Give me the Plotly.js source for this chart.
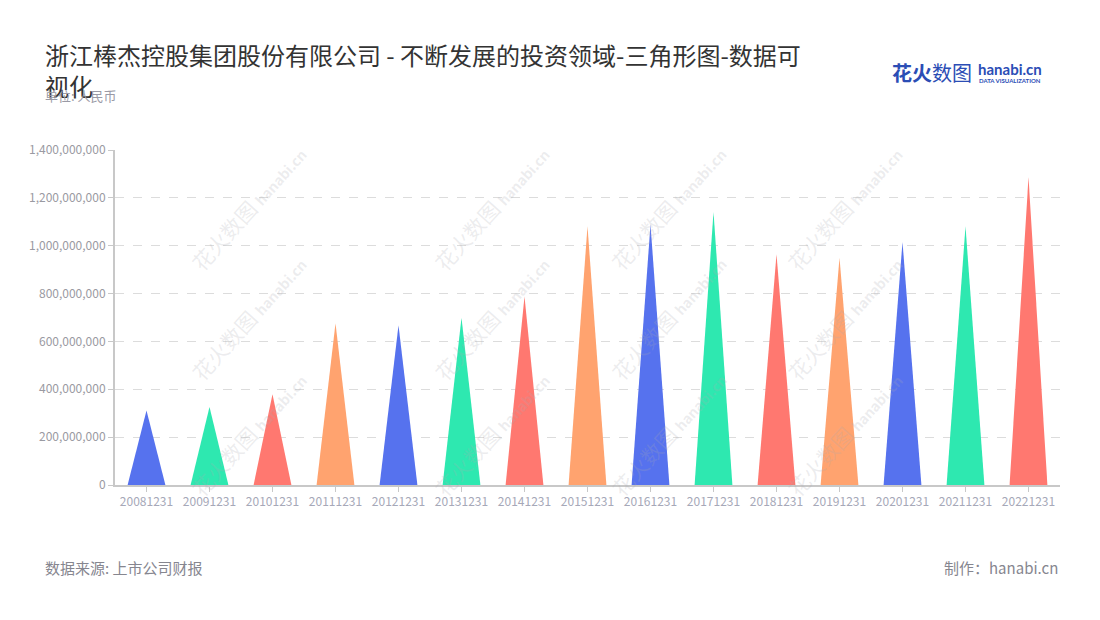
<!DOCTYPE html>
<html>
<head>
<meta charset="utf-8">
<script src="https://cdn.plot.ly/plotly-3.0.1.min.js"></script>
<style>
  body { margin: 0; background: #fff; }
  #chart { width: 1100px; height: 620px; }
</style>
</head>
<body>
<div id="chart"></div>
<script>
// data (yuan)
const categories = ["20081231","20091231","20101231","20111231","20121231","20131231","20141231","20151231",
                    "20161231","20171231","20181231","20191231","20201231","20211231","20221231"];
const values = [311e6, 326e6, 379e6, 676e6, 668e6, 699e6, 788e6, 1081e6,
                1089e6, 1141e6, 964e6, 950e6, 1016e6, 1081e6, 1286e6];
const palette = ["#5672ee", "#2ee8b0", "#ff7870", "#ffa36f"];
const yTicks = [0, 2e8, 4e8, 6e8, 8e8, 10e8, 12e8, 14e8];

const font = "'Noto Sans CJK SC', 'Noto Sans', sans-serif";
const halfWidth = 0.3;

// plot box in pixels, used to place the page texts
const L = 115, W = 945, B = 485, H = 335;
const px = x => (x - L) / W;
const py = y => (B - y) / H;

// one filled triangle per year
let traces = categories.map((cat, i) => ({
  type: "scatter",
  mode: "lines",
  x: [i - halfWidth, i, i + halfWidth, i - halfWidth],
  y: [0, values[i], 0, 0],
  fill: "toself",
  fillcolor: palette[i % palette.length],
  line: { width: 0, color: palette[i % palette.length] },
  name: cat,
  text: cat + ": " + values[i].toLocaleString("en-US"),
  hoverinfo: "text",
  showlegend: false
}));

// faint diagonal watermarks
let marks = [];
const markX = [182, 425, 668, 911];
const markY = [137, 318, 505];
markY.forEach(y => markX.forEach(x => {
  marks.push({
    xref: "paper", yref: "paper",
    x: px(x), y: py(y),
    text: "<span style='font-size:21px'>花火数图</span> <b style='font-size:14px'>hanabi.cn</b>",
    showarrow: false, textangle: -48,
    font: { family: font, size: 21, color: "rgba(170,170,178,0.22)" }
  });
}));

let annotations = marks.concat([
  { xref: "paper", yref: "paper", x: px(43), y: py(70), xanchor: "left", yanchor: "middle", align: "left",
    text: "浙江棒杰控股集团股份有限公司 - 不断发展的投资领域-三角形图-数据可<br>视化", showarrow: false,
    font: { family: font, size: 24, color: "#333" } },
  { xref: "paper", yref: "paper", x: px(43), y: py(96), xanchor: "left", yanchor: "middle",
    text: "单位: 人民币", showarrow: false,
    font: { family: font, size: 13, color: "#9a9aa6" } },
  { xref: "paper", yref: "paper", x: px(43), y: py(567), xanchor: "left", yanchor: "middle",
    text: "数据来源: 上市公司财报", showarrow: false,
    font: { family: font, size: 15, color: "#86868f" } },
  { xref: "paper", yref: "paper", x: 1.0, y: py(567), xanchor: "right", yanchor: "middle",
    text: "制作：hanabi.cn", showarrow: false,
    font: { family: font, size: 15, color: "#86868f" } },
  // logo
  { xref: "paper", yref: "paper", x: px(890), y: py(73), xanchor: "left", yanchor: "middle",
    text: "<b>花火</b>数图", showarrow: false,
    font: { family: font, size: 20, color: "#2b4db5" } },
  { xref: "paper", yref: "paper", x: px(976), y: py(69), xanchor: "left", yanchor: "middle",
    text: "<b>hanabi.cn</b>", showarrow: false,
    font: { family: "Lato, sans-serif", size: 15, color: "#2b4db5" } },
  { xref: "paper", yref: "paper", x: px(977), y: py(80), xanchor: "left", yanchor: "middle",
    text: "<b>DATA VISUALIZATION</b>", showarrow: false,
    font: { family: "Lato, sans-serif", size: 6, color: "#2b4db5" } }
]);

let layout = {
  width: 1100,
  height: 620,
  paper_bgcolor: "#fff",
  plot_bgcolor: "#fff",
  margin: { l: L, r: 1100 - L - W, t: B - H, b: 620 - B },
  xaxis: {
    range: [-0.5, categories.length - 0.5],
    tickvals: categories.map((c, i) => i),
    ticktext: categories,
    showgrid: false,
    zeroline: false,
    showline: true,
    linecolor: "#c8c8c8",
    linewidth: 2,
    ticks: "outside",
    ticklen: 5,
    tickcolor: "#c8c8c8",
    tickfont: { family: font, size: 12, color: "#a6a8b8" },
    fixedrange: true
  },
  yaxis: {
    range: [0, 14e8],
    tickvals: yTicks,
    tickformat: ",d",
    showgrid: true,
    gridcolor: "#dcdcdc",
    griddash: "dash",
    gridwidth: 1,
    zeroline: false,
    showline: true,
    linecolor: "#c8c8c8",
    linewidth: 2,
    ticks: "outside",
    ticklen: 5,
    tickcolor: "#c8c8c8",
    tickfont: { family: font, size: 12, color: "#9a9aa2" },
    fixedrange: true
  },
  annotations: annotations,
  showlegend: false
};

Plotly.newPlot("chart", traces, layout, { displayModeBar: false, staticPlot: true });
</script>
</body>
</html>
